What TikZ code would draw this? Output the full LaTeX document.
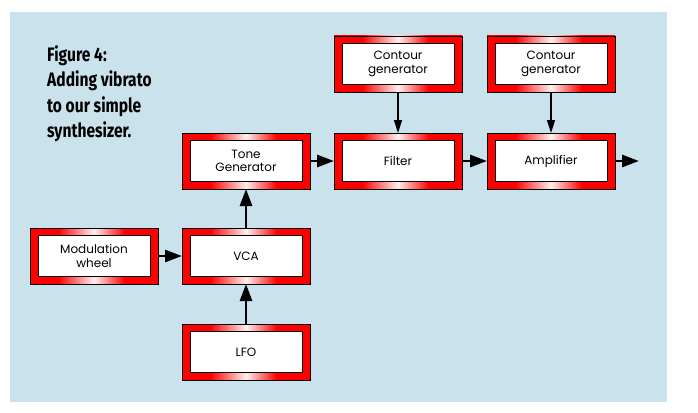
\documentclass[tikz,border=0pt]{standalone}
\usepackage{fontspec}
\setmainfont{Poppins}
\newfontfamily\captionfont[FakeStretch=0.8]{Fira Sans}
\usetikzlibrary{positioning,arrows.meta}

\definecolor{panelblue}{RGB}{202,226,236}
% red frame, pale in the middle of its top and bottom edges
\pgfdeclarehorizontalshading{frameshade}{100bp}{color(0bp)=(red); color(36bp)=(red);
  color(50bp)=(red!6); color(62bp)=(red); color(100bp)=(red)}

\tikzset{
  % the red frame of a block, the named node
  synthbox/.style={draw=black, line width=.6pt, shading=frameshade,
    minimum width=128pt, minimum height=56pt, outer sep=0pt, inner sep=0pt},
  % the white face with the block's name
  synthlabel/.style={draw=black, line width=.6pt, fill=white, minimum width=112pt,
    minimum height=41pt, inner sep=0pt, align=center,
    font=\fontsize{12}{13.5}\selectfont},
  signal/.style={line width=2.8pt, -{Triangle[length=17pt,width=12pt]}},
  control/.style={line width=1.5pt, -{Triangle[length=13pt,width=8pt]}},
}

\begin{document}
\begin{tikzpicture}[x=1pt,y=-1pt]
  \useasboundingbox (0,0) rectangle (698,412);
  \fill[panelblue] (10,12) rectangle (667,402);
  % -------
  % caption
  % -------
  \node[anchor=north west, inner sep=0pt, align=left,
        font=\captionfont\bfseries\fontsize{19.5}{25.5}\selectfont] (caption) at (47,45)
    {Figure 4:\\Adding vibrato\\to our simple\\synthesizer.};
  % ------
  % blocks
  % ------
  \node[synthbox, label={[synthlabel]center:Tone\\Generator}] (tone) at (246,161) {};
  \node[synthbox, label={[synthlabel]center:Filter}, right=24pt of tone] (filter) {};
  \node[synthbox, label={[synthlabel]center:Amplifier}, right=25pt of filter] (amp) {};
  \node[synthbox, label={[synthlabel]center:Contour\\generator}, above=41pt of filter] (contf) {};
  \node[synthbox, label={[synthlabel]center:Contour\\generator}, above=41pt of amp] (conta) {};
  \node[synthbox, label={[synthlabel]center:VCA}, below=39pt of tone] (vca) {};
  \node[synthbox, label={[synthlabel]center:Modulation\\wheel}, left=24pt of vca] (mod) {};
  \node[synthbox, label={[synthlabel]center:LFO}, below=40pt of vca] (lfo) {};
  \coordinate[right=24pt of amp] (out);
  % ----------
  % connectors
  % ----------
  \draw[signal] (tone) -- (filter);
  \draw[signal] (filter) -- (amp);
  \draw[signal] (amp) -- (out);
  \draw[signal] (mod) -- (vca);
  \draw[signal] (lfo) -- (vca);
  \draw[signal] (vca) -- (tone);
  \draw[control] (contf) -- (filter);
  \draw[control] (conta) -- (amp);
\end{tikzpicture}
\end{document}
